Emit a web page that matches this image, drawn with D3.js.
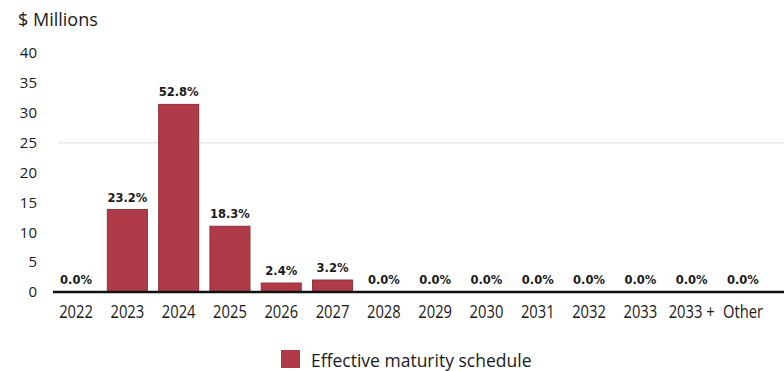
<!DOCTYPE html>
<html>
<head>
<meta charset="utf-8">
<script src="https://cdn.jsdelivr.net/npm/d3@7"></script>
<style>
  html, body { margin: 0; padding: 0; background: #fff; }
  svg { display: block; }
</style>
</head>
<body>
<script>
// Maturity schedule, $ millions per year bucket
const categories = ["2022", "2023", "2024", "2025", "2026", "2027", "2028", "2029",
                    "2030", "2031", "2032", "2033", "2033 +", "Other"];
const values = [0, 13.8, 31.4, 11.0, 1.5, 2.0, 0, 0, 0, 0, 0, 0, 0, 0];
const shareLabels = ["0.0%", "23.2%", "52.8%", "18.3%", "2.4%", "3.2%", "0.0%", "0.0%",
                     "0.0%", "0.0%", "0.0%", "0.0%", "0.0%", "0.0%"];
const yTicks = [0, 5, 10, 15, 20, 25, 30, 35, 40];
const gridValues = [25];
const seriesName = "Effective maturity schedule";
const unitLabel = "$ Millions";

const W = 784, H = 371;
const font = "'Open Sans', 'Noto Sans', sans-serif";
const barFill = "#b03b48";

const svg = d3.select("body").append("svg")
  .attr("width", W).attr("height", H);

const x = d3.scaleBand()
  .domain(categories)
  .range([50.4, 768.6])
  .paddingInner(0.22)
  .paddingOuter(0.11);

const y = d3.scaleLinear()
  .domain([0, 40])
  .range([292, 53]);

// faint horizontal guide
svg.append("g").selectAll("line")
  .data(gridValues)
  .join("line")
  .attr("x1", 58).attr("x2", W)
  .attr("y1", d => y(d)).attr("y2", d => y(d))
  .attr("stroke", "#e9e9e9")
  .attr("stroke-width", 1.5);

// unit title
svg.append("text")
  .attr("x", 18).attr("y", 26)
  .attr("font-family", font)
  .attr("font-size", 18)
  .attr("fill", "#1a1a1a")
  .text(unitLabel);

// y axis labels (right aligned, no axis line)
const yAxis = d3.axisLeft(y).tickValues(yTicks).tickSize(0).tickPadding(0);
const yg = svg.append("g").attr("transform", "translate(37,0)").call(yAxis);
yg.select(".domain").remove();
yg.selectAll("text")
  .attr("x", 0)
  .attr("font-family", font)
  .attr("font-size", 15)
  .attr("fill", "#1a1a1a");

// bars
svg.append("g").selectAll("rect")
  .data(categories)
  .join("rect")
  .attr("x", d => x(d))
  .attr("width", x.bandwidth())
  .attr("y", (d, i) => y(values[i]))
  .attr("height", (d, i) => y(0) - y(values[i]))
  .attr("fill", barFill)
  .attr("stroke", "#8f2f3a")
  .attr("stroke-width", 1);

// value share labels
svg.append("g").selectAll("text")
  .data(categories)
  .join("text")
  .attr("x", d => x(d) + x.bandwidth() / 2)
  .attr("y", (d, i) => y(values[i]) - 8)
  .attr("text-anchor", "middle")
  .attr("font-family", "'DejaVu Sans', Verdana, sans-serif")
  .attr("font-weight", "bold")
  .attr("font-size", 11.5)
  .attr("fill", "#1a1a1a")
  .text((d, i) => shareLabels[i]);

// x axis baseline
svg.append("line")
  .attr("x1", 53).attr("x2", W)
  .attr("y1", y(0)).attr("y2", y(0))
  .attr("stroke", "#111")
  .attr("stroke-width", 2.5);

// x axis labels (condensed face)
const xAxis = d3.axisBottom(x).tickSize(0).tickPadding(0);
const xg = svg.append("g").attr("transform", "translate(0,317.5)").call(xAxis);
xg.select(".domain").remove();
xg.selectAll("text")
  .attr("dy", 0)
  .attr("y", 0)
  .attr("transform", "scale(0.82,1)")
  .attr("font-family", font)
  .attr("font-size", 18)
  .attr("fill", "#1a1a1a");

// legend
const lg = svg.append("g").attr("transform", "translate(281,350)");
lg.append("rect")
  .attr("width", 19).attr("height", 18)
  .attr("fill", barFill);
lg.append("text")
  .attr("x", 30).attr("y", 16.5)
  .attr("font-family", font)
  .attr("font-size", 17.5)
  .attr("fill", "#1a1a1a")
  .text(seriesName);
</script>
</body>
</html>
